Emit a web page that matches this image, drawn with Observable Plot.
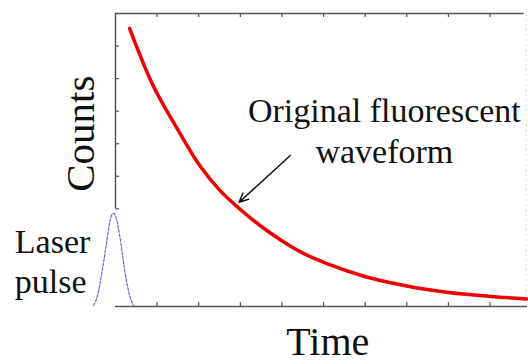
<!DOCTYPE html>
<html>
<head>
<meta charset="utf-8">
<script src="https://cdn.jsdelivr.net/npm/d3@7"></script>
<script src="https://cdn.jsdelivr.net/npm/@observablehq/plot@0.6"></script>
<style>
  html, body { margin: 0; padding: 0; background: #fff; overflow: hidden; }
</style>
</head>
<body>
<div id="chart"></div>
<script>
// Fluorescence decay (red)
const decayTime   = [0.34, 0.84, 1.49, 2.04, 2.52, 3.00, 3.48, 3.96, 4.44, 5.18, 5.97, 7.00, 7.96, 9.02, 9.88];
const decayCounts = [8.54, 6.96, 5.45, 4.30, 3.55, 2.98, 2.48, 2.05, 1.68, 1.27, 0.93, 0.63, 0.44, 0.31, 0.23];

// Laser pulse (blue dashed)
const pulseTime   = [-0.53, -0.43, -0.34, -0.26, -0.19, -0.12, -0.05, 0.02, 0.10, 0.17, 0.24, 0.34, 0.43];
const pulseCounts = [0.03, 0.34, 0.95, 1.57, 2.18, 2.70, 2.86, 2.70, 2.18, 1.57, 0.95, 0.34, 0.03];

// Tick positions (unlabelled, drawn inward)
const xTicks = [1, 2, 3, 4, 5, 6, 7, 8, 9];
const yTicks = [3, 4, 5, 6, 7, 8];

// Annotation texts
const waveLabel  = "Original fluorescent\nwaveform";
const pulseLabel = "Laser\npulse";
const xLabel = "Time";
const yLabel = "Counts";
const arrowData = [{x1: 4.20, y1: 4.64, x2: 2.97, y2: 3.20}];

const decay = decayTime.map((t, i) => ({t, c: decayCounts[i]}));
const pulse = pulseTime.map((t, i) => ({t, c: pulseCounts[i]}));

const W = 528, H = 364, mL = 115, mR = 1, mT = 13, mB = 58;
const frameW = W - mL - mR, frameH = H - mT - mB;
const axisColor = "#555";

const chart = Plot.plot({
  width: W,
  height: H,
  marginLeft: mL,
  marginRight: mR,
  marginTop: mT,
  marginBottom: mB,
  x: {domain: [0, 9.9], axis: null},
  y: {domain: [0, 9], axis: null},
  style: {background: "#fff"},
  marks: [
    // frame
    Plot.ruleY([9], {x1: 0, x2: 9.82, stroke: axisColor, strokeWidth: 1.5}),
    Plot.ruleY([0], {x1: 0, x2: 9.9, stroke: axisColor, strokeWidth: 1.5}),
    Plot.ruleX([0], {y1: 3, y2: 9, stroke: axisColor, strokeWidth: 1.5}),
    Plot.ruleX([9.87], {y1: 0, y2: 9, stroke: "#ddd", strokeWidth: 1, strokeDasharray: "2,3"}),
    // inward ticks
    Plot.ruleX(xTicks, {x: d => d, insetBottom: frameH - 4, stroke: axisColor, strokeWidth: 1.2}),
    Plot.ruleX(xTicks, {x: d => d, insetTop: frameH - 4, stroke: axisColor, strokeWidth: 1.2}),
    Plot.ruleY(yTicks, {y: d => d, insetRight: frameW - 4, stroke: axisColor, strokeWidth: 1.2}),
    // laser pulse
    Plot.line(pulse, {x: "t", y: "c", stroke: "#5a5ad8", strokeWidth: 1.1, strokeDasharray: "3,1.5", curve: "natural"}),
    // fluorescence decay
    Plot.line(decay, {x: "t", y: "c", stroke: "#ee0000", strokeWidth: 3.5, curve: "monotone-x"}),
    // arrow
    Plot.arrow(arrowData, {x1: "x1", y1: "y1", x2: "x2", y2: "y2", stroke: "#111", strokeWidth: 1.5, headLength: 10, headAngle: 50}),
    // texts
    Plot.text([waveLabel], {x: 6.46, y: 4.42, text: d => d, fontSize: 34, lineHeight: 1.18, fontFamily: "Liberation Serif", textAnchor: "middle", lineAnchor: "bottom", fill: "#111"}),
    Plot.text([pulseLabel], {x: -2.42, y: 0.43, text: d => d, fontSize: 34, lineHeight: 1.15, fontFamily: "serif", textAnchor: "start", lineAnchor: "bottom", fill: "#111"}),
    Plot.text([xLabel], {x: 5.10, y: -1.50, text: d => d, fontSize: 40, fontFamily: "Times New Roman", textAnchor: "middle", lineAnchor: "bottom", fill: "#111"}),
    Plot.text([yLabel], {x: -0.84, y: 5.31, text: d => d, rotate: -90, fontSize: 41, fontFamily: "Times, serif", textAnchor: "middle", lineAnchor: "middle", fill: "#111"})
  ]
});

document.getElementById("chart").appendChild(chart);
</script>
</body>
</html>
